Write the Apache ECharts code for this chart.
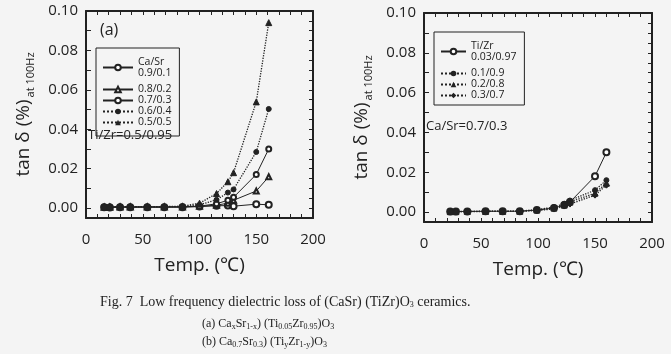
<!DOCTYPE html>
<html>
<head>
<meta charset="utf-8">
<script src="https://cdn.jsdelivr.net/npm/echarts@6/dist/echarts.min.js"></script>
<style>
    html, body { margin: 0; padding: 0; background: #f4f4f4; }
    #chart { width: 671px; height: 354px; }
</style>
</head>
<body>
<div id="chart"></div>
<script>
    // (a) Ca/Sr series, temperature in degC
    var tempA = [16, 21, 30, 39, 54, 69, 85, 100, 115, 125, 130, 150, 161];
    var caSr91 = [0.0005, 0.0003, 0.0005, 0.0005, 0.0005, 0.0005, 0.0005, 0.0008, 0.0012, 0.0013, 0.0010, 0.0020, 0.0017];
    var caSr82 = [0.0005, 0.0005, 0.0006, 0.0006, 0.0006, 0.0006, 0.0006, 0.0009, 0.0015, 0.0025, 0.0040, 0.0087, 0.0159];
    var caSr73 = [0.0006, 0.0006, 0.0006, 0.0006, 0.0006, 0.0006, 0.0007, 0.0010, 0.0022, 0.0040, 0.0055, 0.0171, 0.0300];
    var caSr64 = [0.0007, 0.0007, 0.0007, 0.0007, 0.0007, 0.0007, 0.0008, 0.0017, 0.0042, 0.0079, 0.0095, 0.0285, 0.0503];
    var caSr55 = [0.0007, 0.0008, 0.0008, 0.0008, 0.0008, 0.0008, 0.0010, 0.0025, 0.0074, 0.0134, 0.0180, 0.0539, 0.0941];

    // (b) Ti/Zr series
    var tempB = [23, 28, 38, 54, 69, 84, 99, 114, 123, 128, 150, 160];
    var tiZr03 = [0.0003, 0.0003, 0.0003, 0.0004, 0.0004, 0.0004, 0.0010, 0.0020, 0.0035, 0.0050, 0.0180, 0.0300];
    var tiZr1 = [0.0003, 0.0003, 0.0003, 0.0004, 0.0004, 0.0005, 0.0012, 0.0025, 0.0042, 0.0058, 0.0110, 0.0160];
    var tiZr2 = [0.0002, 0.0002, 0.0003, 0.0003, 0.0003, 0.0004, 0.0010, 0.0020, 0.0035, 0.0050, 0.0095, 0.0145];
    var tiZr3 = [0.0002, 0.0002, 0.0002, 0.0003, 0.0003, 0.0004, 0.0008, 0.0015, 0.0030, 0.0040, 0.0085, 0.0135];

    var yLabels = [0, 0.02, 0.04, 0.06, 0.08, 0.10];
    var xLabels = [0, 50, 100, 150, 200];
    var xMin = 0, xMax = 200, yMin = -0.005, yMax = 0.1;

    function pairs(xs, ys) {
        return xs.map(function (x, i) { return [x, ys[i]]; });
    }
    function range(a, b, step) {
        var out = [];
        for (var v = a; v <= b + 1e-9; v += step) out.push(+v.toFixed(4));
        return out;
    }

    var ink = '#222';
    var font = 'Open Sans';

    function xAx(grid, bottom) {
        return {
            type: 'value', gridIndex: grid, min: xMin, max: xMax, interval: 50,
            position: bottom ? 'bottom' : 'top',
            axisLine: { show: true, onZero: false, lineStyle: { color: ink, width: 2 } },
            axisTick: { show: true, inside: true, length: 4, customValues: range(0, 200, 10), lineStyle: { color: ink } },
            axisLabel: { show: bottom, customValues: xLabels, color: ink, fontSize: 15, fontFamily: font, margin: 14 },
            splitLine: { show: false },
            name: bottom ? 'Temp. (℃)' : '', nameLocation: 'middle', nameGap: 38,
            nameTextStyle: { fontSize: 19, color: ink, fontFamily: font }
        };
    }
    function yAx(grid, left) {
        return {
            type: 'value', gridIndex: grid, min: yMin, max: yMax,
            position: left ? 'left' : 'right',
            axisLine: { show: true, onZero: false, lineStyle: { color: ink, width: 2 } },
            axisTick: { show: true, inside: true, length: left ? 5 : 4, customValues: left ? range(0, 0.1, 0.01) : range(0, 0.1, 0.005), lineStyle: { color: ink } },
            axisLabel: {
                show: left, customValues: yLabels, color: ink, fontSize: 15, fontFamily: font, margin: 8,
                formatter: function (v) { return v.toFixed(2); }
            },
            splitLine: { show: false },
            name: left ? '{a|tan δ (%)}{b|at 100Hz}' : '', nameLocation: 'middle', nameGap: 50, nameRotate: 90,
            nameTextStyle: {
                color: ink, fontFamily: font,
                rich: {
                    a: { fontSize: 19, fontFamily: font, color: ink },
                    b: { fontSize: 11, fontFamily: font, color: ink, verticalAlign: 'top', padding: [14, 0, 0, 2] }
                }
            }
        };
    }

    function line(name, data, xi, yi, symbol, size, dotted) {
        return {
            name: name, type: 'line', data: data, xAxisIndex: xi, yAxisIndex: yi,
            symbol: symbol, symbolSize: size, showSymbol: true,
            itemStyle: { color: ink, borderColor: ink },
            lineStyle: { color: ink, width: dotted ? 1.3 : 1, type: dotted ? 'dotted' : 'solid' },
            emphasis: { disabled: true }, z: 3
        };
    }

    // plot box drawn along the axis limits through the same scales
    function frame(xi, yi) {
        return {
            name: 'frame' + xi, type: 'line', xAxisIndex: xi, yAxisIndex: yi,
            data: [[xMin, yMax], [xMax, yMax], [xMax, yMin], [xMin, yMin], [xMin, yMax]],
            symbol: 'none', silent: true, clip: false, z: 2,
            lineStyle: { color: ink, width: 1.5, type: 'solid' },
            emphasis: { disabled: true }
        };
    }

    function legendFmt(name) {
        if (name === '0.9/0.1') return 'Ca/Sr\n0.9/0.1';
        if (name === '0.03/0.97') return 'Ti/Zr\n0.03/0.97';
        return name;
    }
    var legendBase = {
        orient: 'vertical', itemWidth: 30, itemHeight: 7, itemGap: 0,
        borderColor: ink, borderWidth: 1, padding: [3, 8, 8, 6],
        backgroundColor: 'transparent', selectedMode: false,
        formatter: legendFmt,
        textStyle: { fontSize: 10.5, color: ink, fontFamily: font, lineHeight: 11 }
    };

    var option = {
        animation: false,
        grid: [
            { left: 86, top: 11, right: 358, bottom: 136 },
            { left: 424, top: 13, right: 19, bottom: 132 }
        ],
        xAxis: [xAx(0, true), xAx(0, false), xAx(1, true), xAx(1, false)],
        yAxis: [yAx(0, true), yAx(0, false), yAx(1, true), yAx(1, false)],
        legend: [
            Object.assign({}, legendBase, {
                left: 96, top: 48,
                data: [
                    { name: '0.9/0.1', textStyle: { padding: [11, 0, 0, 0] } },
                    '0.8/0.2', '0.7/0.3', '0.6/0.4', '0.5/0.5'
                ]
            }),
            Object.assign({}, legendBase, {
                left: 434, top: 32, itemWidth: 25, padding: [3, 8, 4, 6],
                data: [
                    { name: '0.03/0.97', textStyle: { padding: [11, 0, 0, 0] } },
                    '0.1/0.9', '0.2/0.8', '0.3/0.7'
                ]
            })
        ],
        title: [
            {
                left: 95, top: 290,
                text: 'Fig. 7  Low frequency dielectric loss of (CaSr) (TiZr)O{s|3} ceramics.',
                textStyle: { fontFamily: 'Liberation Serif', fontSize: 14, fontWeight: 'normal', color: ink,
                    rich: { s: { fontFamily: 'Liberation Serif', fontSize: 8, color: ink, verticalAlign: 'top', padding: [6, 0, 0, 0] } } }
            },
            {
                left: 197, top: 312,
                text: '(a) Ca{s|x}Sr{s|1-x}) (Ti{s|0.05}Zr{s|0.95})O{s|3}',
                textStyle: { fontFamily: 'Liberation Serif', fontSize: 12, fontWeight: 'normal', color: ink,
                    rich: { s: { fontFamily: 'Liberation Serif', fontSize: 8, color: ink, verticalAlign: 'top', padding: [6, 0, 0, 0] } } }
            },
            {
                left: 197, top: 330,
                text: '(b) Ca{s|0.7}Sr{s|0.3}) (Ti{s|y}Zr{s|1-y})O{s|3}',
                textStyle: { fontFamily: 'Liberation Serif', fontSize: 12, fontWeight: 'normal', color: ink,
                    rich: { s: { fontFamily: 'Liberation Serif', fontSize: 8, color: ink, verticalAlign: 'top', padding: [6, 0, 0, 0] } } }
            }
        ],
        graphic: [
            { type: 'text', left: 100, top: 22, style: { text: '(a)', fontSize: 16, fontFamily: font, fill: ink } },
            { type: 'text', left: 88, top: 129, style: { text: 'Ti/Zr=0.5/0.95', fontSize: 13, fontFamily: font, fill: ink } },
            { type: 'text', left: 426, top: 120, style: { text: 'Ca/Sr=0.7/0.3', fontSize: 13, fontFamily: font, fill: ink } }
        ],
        series: [
            frame(0, 0),
            frame(2, 2),
            line('0.9/0.1', pairs(tempA, caSr91), 0, 0, 'emptyCircle', 6, false),
            line('0.8/0.2', pairs(tempA, caSr82), 0, 0, 'emptyTriangle', 5, false),
            line('0.7/0.3', pairs(tempA, caSr73), 0, 0, 'emptyCircle', 5, false),
            line('0.6/0.4', pairs(tempA, caSr64), 0, 0, 'circle', 5, true),
            line('0.5/0.5', pairs(tempA, caSr55), 0, 0, 'triangle', 6, true),
            line('0.03/0.97', pairs(tempB, tiZr03), 2, 2, 'emptyCircle', 6, false),
            line('0.1/0.9', pairs(tempB, tiZr1), 2, 2, 'circle', 5, true),
            line('0.2/0.8', pairs(tempB, tiZr2), 2, 2, 'triangle', 6, true),
            line('0.3/0.7', pairs(tempB, tiZr3), 2, 2, 'diamond', 6, true)
        ]
    };

    var chart = echarts.init(document.getElementById('chart'));
    chart.setOption(option);
</script>
</body>
</html>
